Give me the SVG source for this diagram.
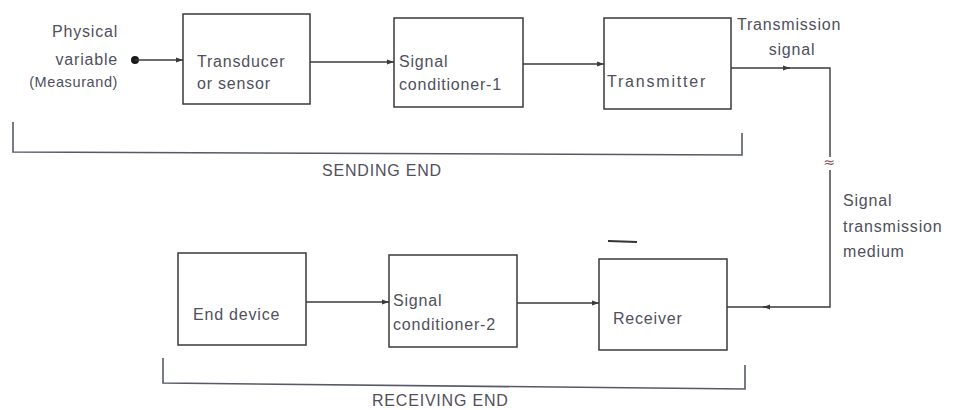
<svg xmlns="http://www.w3.org/2000/svg" width="955" height="410" viewBox="0 0 955 410">
<style>
.box{fill:#fff;stroke:#3a3a3a;stroke-width:1.5}
.t{font-family:"Liberation Sans",Arial,sans-serif;font-size:16px;fill:#50505c;letter-spacing:0.8px}
.s{font-size:14.5px;letter-spacing:0.6px}
.line{fill:none;stroke:#3a3a3a;stroke-width:1.4}
.br{fill:none;stroke:#555a66;stroke-width:1.6}
</style>
<defs>
<marker id="ah" viewBox="0 0 10 10" refX="10" refY="5" markerWidth="7" markerHeight="7" orient="auto" markerUnits="userSpaceOnUse">
<path d="M0,1.5 L10,5 L0,8.5 z" fill="#3a3a3a"/>
</marker>
</defs>
<rect width="955" height="410" fill="#fff"/>

<g id="input-label">
<text class="t" x="118" y="37" text-anchor="end">Physical</text>
<text class="t" x="118" y="65" text-anchor="end">variable</text>
<text class="t s" x="118" y="87" text-anchor="end">(Measurand)</text>
</g>

<g id="transducer">
<rect class="box" x="183" y="14" width="127" height="90"/>
<text class="t" x="197" y="67">Transducer</text>
<text class="t" x="197" y="89">or sensor</text>
</g>

<g id="conditioner1">
<rect class="box" x="394" y="18" width="129" height="89"/>
<text class="t" x="399" y="67">Signal</text>
<text class="t" x="399" y="90">conditioner-1</text>
</g>

<g id="transmitter">
<rect class="box" x="604" y="18" width="127" height="91"/>
<text class="t" x="607" y="87" style="letter-spacing:1.8px">Transmitter</text>
</g>

<g id="end-device">
<rect class="box" x="178" y="253" width="128" height="92"/>
<text class="t" x="193" y="320">End device</text>
</g>

<g id="conditioner2">
<rect class="box" x="389" y="255" width="128" height="92"/>
<text class="t" x="393" y="306">Signal</text>
<text class="t" x="393" y="330">conditioner-2</text>
</g>

<g id="receiver">
<rect class="box" x="599" y="259" width="128" height="91"/>
<text class="t" x="613" y="324">Receiver</text>
</g>

<g id="labels">
<text class="t" x="737" y="30">Transmission</text>
<text class="t" x="792" y="55" text-anchor="middle">signal</text>
<text class="t" x="843" y="206">Signal</text>
<text class="t" x="843" y="232">transmission</text>
<text class="t" x="843" y="257">medium</text>
<text class="t" x="322" y="176">SENDING END</text>
<text class="t" x="372" y="406">RECEIVING END</text>
</g>

<g id="connectors">
<circle cx="135" cy="60" r="4" fill="#1a1a1a"/>
<line class="line" x1="135" y1="60" x2="183" y2="60" marker-end="url(#ah)"/>
<line class="line" x1="310" y1="62" x2="394" y2="62" marker-end="url(#ah)"/>
<line class="line" x1="523" y1="64" x2="604" y2="64" marker-end="url(#ah)"/>
<line class="line" x1="731" y1="68" x2="790" y2="68" marker-end="url(#ah)"/>
<polyline class="line" points="788,68 830,68 830,157"/>
<text x="829" y="167" text-anchor="middle" style="font-family:'DejaVu Sans',sans-serif;font-size:14px;fill:#8a5060">≈</text>
<polyline class="line" points="830,170 830,307 765,307"/>
<line class="line" x1="767" y1="307" x2="763" y2="307" marker-end="url(#ah)"/>
<line class="line" x1="765" y1="307" x2="727" y2="307"/>
<line class="line" x1="517" y1="303" x2="599" y2="303" marker-end="url(#ah)"/>
<line class="line" x1="306" y1="302" x2="389" y2="302" marker-end="url(#ah)"/>
<line x1="608" y1="241" x2="637" y2="242" stroke="#333" stroke-width="2"/>
<polyline class="br" points="13,122 13,152 742,155 742,133"/>
<polyline class="br" points="163,358 163,383 745,389 745,365"/>
</g>
</svg>
